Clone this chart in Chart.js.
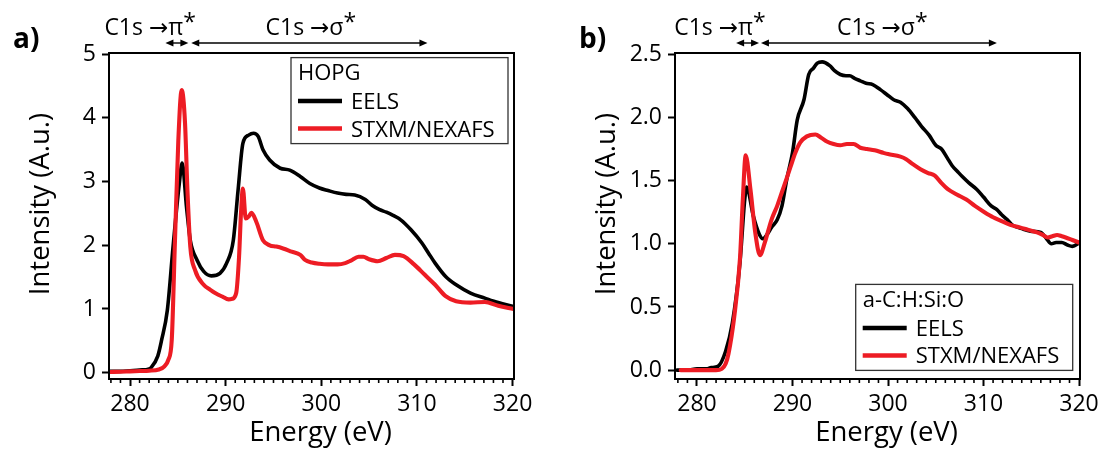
<!DOCTYPE html>
<html><head><meta charset="utf-8">
<script src="https://cdn.jsdelivr.net/npm/chart.js@4.4.0/dist/chart.umd.min.js"></script>
<style>
html,body{margin:0;padding:0;background:#fff;width:1107px;height:457px;overflow:hidden}
.p{position:absolute;top:0;height:457px}
#wa{left:0;width:553px}
#wb{left:553px;width:554px}
canvas{display:block}
</style></head>
<body>
<div class="p" id="wa"><canvas id="ca" width="553" height="457"></canvas></div>
<div class="p" id="wb"><canvas id="cb" width="554" height="457"></canvas></div>
<script>
// ---------- data ----------
const seriesLabels = ['EELS', 'STXM/NEXAFS'];
const energyTicks = [280, 290, 300, 310, 320];
const hopgYTicks = [0, 1, 2, 3, 4, 5];
const sicoYTicks = [0, 0.5, 1.0, 1.5, 2.0, 2.5];

// a) HOPG
const hopgEelsE = [277.9,279,280,281,282,282.2,282.9,283.3,283.9,284.5,285.15,285.45,285.9,286.3,287.0,287.7,288.5,289.4,290.1,290.8,291.3,291.8,292.4,292.9,293.4,293.9,294.6,295.7,296.7,297.8,298.8,299.8,300.7,301.7,302.6,303.5,304.6,305.3,306.1,306.8,307.5,308.3,309.4,310.5,311.2,311.9,313.0,314.1,315.6,317.1,318.5,320.1];
const hopgEelsI = [0.02,0.02,0.03,0.04,0.06,0.08,0.26,0.51,0.98,1.98,2.97,3.29,2.61,2.08,1.77,1.59,1.52,1.56,1.72,2.08,2.87,3.60,3.73,3.76,3.71,3.50,3.34,3.21,3.18,3.08,2.97,2.90,2.86,2.82,2.80,2.79,2.72,2.63,2.56,2.52,2.47,2.40,2.24,2.04,1.88,1.72,1.51,1.38,1.25,1.17,1.10,1.04];
const hopgStxmE = [277.9,279,280,281,282,283,283.6,284.0,284.36,284.7,285.05,285.4,285.75,286.0,286.3,286.8,287.7,288.4,288.9,289.7,290.3,290.7,291.1,291.4,291.6,291.8,292.1,292.4,292.7,293.2,293.9,294.6,295.3,296.0,296.9,297.8,298.3,299.0,299.8,300.7,301.7,302.5,303.1,303.9,304.4,305.0,305.9,306.8,307.7,308.6,309.7,310.8,311.9,313.0,314.1,315.6,317.1,318.5,320.1];
const hopgStxmI = [0.01,0.015,0.02,0.025,0.03,0.05,0.10,0.20,0.51,2.08,3.65,4.44,3.92,2.87,1.98,1.61,1.38,1.30,1.25,1.19,1.15,1.16,1.25,1.82,2.50,2.89,2.42,2.45,2.51,2.37,2.08,2.00,1.98,1.95,1.90,1.85,1.77,1.73,1.71,1.70,1.70,1.72,1.76,1.82,1.82,1.78,1.75,1.80,1.85,1.83,1.70,1.54,1.38,1.20,1.12,1.10,1.11,1.05,1.00];

// b) a-C:H:Si:O
const sicoEelsE = [277.9,279,280,281,281.5,282.2,283.0,283.7,284.5,285.0,285.2,285.9,286.5,286.9,287.4,287.8,288.4,288.9,289.4,290.0,290.5,291.2,291.7,292.2,292.6,293.1,293.9,294.4,295.0,295.6,296.0,296.5,297.1,297.7,298.4,299.2,299.9,300.6,301.3,302.05,302.8,303.5,304.3,305.0,305.6,306.2,306.7,307.3,307.8,308.5,309.3,310.0,310.8,311.4,311.9,312.5,313.0,314.0,314.9,316.0,316.6,317.1,317.6,318.2,318.8,319.3,320.1];
const sicoEelsI = [0.0,0.0,0.01,0.01,0.02,0.03,0.15,0.37,0.85,1.35,1.45,1.22,1.08,1.04,1.08,1.13,1.19,1.30,1.51,1.72,1.98,2.14,2.34,2.39,2.43,2.44,2.41,2.37,2.34,2.33,2.33,2.31,2.29,2.27,2.26,2.22,2.18,2.14,2.12,2.07,2.00,1.93,1.86,1.78,1.75,1.68,1.62,1.57,1.53,1.48,1.43,1.37,1.30,1.27,1.23,1.19,1.15,1.12,1.10,1.09,1.04,1.00,1.01,1.01,0.99,0.98,1.01];
const sicoStxmE = [278.3,279,280,281,282,282.6,283.0,283.3,283.9,284.5,284.8,285.1,285.6,286.1,286.6,287.1,287.8,288.4,288.9,289.4,289.8,290.3,290.8,291.5,292.4,293.0,293.6,294.3,295.0,295.7,296.4,297.1,297.8,298.6,299.5,300.0,301.3,301.9,302.6,303.4,304.2,304.9,305.6,306.3,307.2,308.2,309.1,310.1,311.0,311.9,312.8,313.8,314.7,315.6,316.2,316.7,317.2,317.7,318.2,318.6,319.3,320.0];
const sicoStxmI = [0.0,0.0,0.0,0.0,0.0,0.01,0.05,0.13,0.42,0.88,1.35,1.70,1.43,1.09,0.91,1.01,1.19,1.30,1.41,1.52,1.61,1.72,1.80,1.85,1.865,1.84,1.81,1.79,1.78,1.79,1.79,1.76,1.75,1.74,1.72,1.71,1.69,1.67,1.63,1.59,1.56,1.54,1.48,1.43,1.39,1.35,1.30,1.25,1.21,1.18,1.15,1.13,1.11,1.09,1.07,1.05,1.06,1.07,1.06,1.05,1.03,1.01];

// ---------- rendering ----------
const RED = '#ED1C24', BLACK = '#000000';
const FONT = "'Open Sans', 'DejaVu Sans', sans-serif";
Chart.defaults.font.family = FONT;
Chart.defaults.color = '#000';

const minorTicks = [];
for (let e = 278; e <= 320; e++) if (e % 10 !== 0) minorTicks.push(e);

function pts(xs, ys) { return xs.map((x, i) => ({x: x, y: ys[i]})); }

function arrowHead(ctx, x, y, dir) {
  ctx.beginPath();
  ctx.moveTo(x, y);
  ctx.lineTo(x - dir * 8, y - 3.6);
  ctx.lineTo(x - dir * 8, y + 3.6);
  ctx.closePath();
  ctx.fill();
}
function dblArrow(ctx, x1, x2, y) {
  ctx.beginPath(); ctx.moveTo(x1 + 4, y); ctx.lineTo(x2 - 4, y); ctx.stroke();
  arrowHead(ctx, x1, y, -1); arrowHead(ctx, x2, y, 1);
}
function starLabel(ctx, main, cx, base) {
  ctx.font = '23px ' + FONT;
  const w1 = ctx.measureText(main).width;
  const w2 = ctx.measureText('*').width;
  const x0 = cx - (w1 + w2) / 2;
  ctx.textAlign = 'left';
  ctx.fillText(main, x0, base);
  ctx.fillText('*', x0 + w1, base - 5);
}

const deco = {
  id: 'deco',
  afterDraw(chart) {
    const o = chart.options.plugins.deco;
    const ctx = chart.ctx, a = chart.chartArea, xs = chart.scales.x;
    ctx.save();
    ctx.fillStyle = '#000'; ctx.strokeStyle = '#000';
    // frame
    ctx.lineWidth = 2;
    ctx.strokeRect(a.left, a.top, a.right - a.left, a.bottom - a.top);
    // minor ticks
    ctx.lineWidth = 1.6;
    minorTicks.forEach(e => {
      const px = xs.getPixelForValue(e);
      ctx.beginPath(); ctx.moveTo(px, a.bottom); ctx.lineTo(px, a.bottom + 4); ctx.stroke();
    });
    // transition arrows
    ctx.lineWidth = 1.4;
    const ay = a.top - 10;
    dblArrow(ctx, xs.getPixelForValue(o.pi[0]), xs.getPixelForValue(o.pi[1]), ay);
    dblArrow(ctx, xs.getPixelForValue(o.sigma[0]), xs.getPixelForValue(o.sigma[1]), ay);
    ctx.textBaseline = 'alphabetic';
    starLabel(ctx, 'C1s \u2192\u03C0', xs.getPixelForValue(o.piLabel), a.top - 18);
    starLabel(ctx, 'C1s \u2192\u03C3', xs.getPixelForValue(o.sigmaLabel), a.top - 18);
    // panel label
    ctx.font = 'bold 28px ' + FONT;
    ctx.textAlign = 'left';
    ctx.fillText(o.panel, a.left - 96, a.top - 5);
    // axis titles
    ctx.font = '27.5px ' + FONT;
    ctx.textAlign = 'center';
    ctx.fillText('Energy (eV)', (a.left + a.right) / 2 + 9, a.bottom + 62);
    ctx.save();
    ctx.translate(a.left - 60, (a.top + a.bottom) / 2 - 12);
    ctx.rotate(-Math.PI / 2);
    ctx.fillText('Intensity (A.u.)', 0, 0);
    ctx.restore();
    // legend
    const w = 217, h = 86;
    const bx = a.right - o.legInset - w;
    const by = o.legTop ? a.top + 4.6 : a.bottom - 8.6 - h;
    ctx.lineWidth = 1.3; ctx.strokeStyle = '#333';
    ctx.strokeRect(bx, by, w, h);
    ctx.font = '22px ' + FONT;
    ctx.textAlign = 'left';
    ctx.fillStyle = '#000';
    ctx.fillText(o.legTitle, bx + 7, by + 22.5);
    const ds = chart.data.datasets;
    const byLabel = l => ds.find(d => d.label === l);
    seriesLabels.forEach((lab, i) => {
      const y = by + 43.5 + i * 27.5;
      ctx.strokeStyle = byLabel(lab).borderColor;
      ctx.lineWidth = 4.5;
      ctx.beginPath(); ctx.moveTo(bx + 7, y); ctx.lineTo(bx + 51, y); ctx.stroke();
      ctx.fillText(lab, bx + 60, y + 8);
    });
    ctx.restore();
  }
};

function makeChart(id, p) {
  return new Chart(document.getElementById(id), {
    type: 'line',
    data: { datasets: [
      {label: seriesLabels[1], data: pts(p.stxmE, p.stxmI), borderColor: RED, borderWidth: 4.1, order: 0},
      {label: seriesLabels[0], data: pts(p.eelsE, p.eelsI), borderColor: BLACK, borderWidth: 3.6, order: 1}
    ]},
    options: {
      responsive: false, animation: false, devicePixelRatio: 1,
      layout: {padding: {top: 53, right: p.padRight, left: 0, bottom: 0}},
      elements: {point: {radius: 0}, line: {cubicInterpolationMode: 'monotone', borderCapStyle: 'round', borderJoinStyle: 'round', fill: false}},
      plugins: {legend: {display: false}, tooltip: {enabled: false},
        deco: {pi: p.pi, sigma: p.sigma, piLabel: p.piLabel, sigmaLabel: p.sigmaLabel, panel: p.panel,
               legTitle: p.legTitle, legTop: p.legTop, legInset: p.legInset}},
      scales: {
        x: {type: 'linear', min: p.xMin, max: p.xMax,
            afterFit: s => { s.height = 78; },
            afterBuildTicks: s => { s.ticks = energyTicks.map(v => ({value: v})); },
            grid: {drawOnChartArea: false, drawTicks: true, tickLength: 7, tickWidth: 2, tickColor: '#000'},
            border: {display: false},
            ticks: {font: {size: 23}, padding: 5, maxRotation: 0, autoSkip: false, color: '#000', callback: v => String(v)}},
        y: {type: 'linear', min: p.yMin, max: p.yMax,
            afterFit: s => { s.width = p.yWidth; },
            afterBuildTicks: s => { s.ticks = p.yTicks.map(v => ({value: v})); },
            grid: {drawOnChartArea: false, drawTicks: true, tickLength: 7, tickWidth: 2, tickColor: '#000'},
            border: {display: false},
            ticks: {font: {size: 23}, padding: 6, color: '#000', callback: p.fmt}}
      }
    },
    plugins: [deco]
  });
}

makeChart('ca', {
  eelsE: hopgEelsE, eelsI: hopgEelsI, stxmE: hopgStxmE, stxmI: hopgStxmI,
  xMin: 277.8, xMax: 320.15, yMin: -0.1, yMax: 5.02, yTicks: hopgYTicks, fmt: v => String(v),
  yWidth: 109, padRight: 39, panel: 'a)', legTitle: 'HOPG', legTop: true, legInset: 6,
  pi: [283.7, 286.1], sigma: [286.4, 311.1], piLabel: 282.1, sigmaLabel: 298.9
});
makeChart('cb', {
  eelsE: sicoEelsE, eelsI: sicoEelsI, stxmE: sicoStxmE, stxmI: sicoStxmI,
  xMin: 277.7, xMax: 320.1, yMin: -0.07, yMax: 2.51, yTicks: sicoYTicks, fmt: v => v.toFixed(1),
  yWidth: 122, padRight: 27, panel: 'b)', legTitle: 'a-C:H:Si:O', legTop: false, legInset: 7.3,
  pi: [284.1, 286.5], sigma: [286.7, 311.4], piLabel: 282.4, sigmaLabel: 299.4
});
</script>
</body></html>
